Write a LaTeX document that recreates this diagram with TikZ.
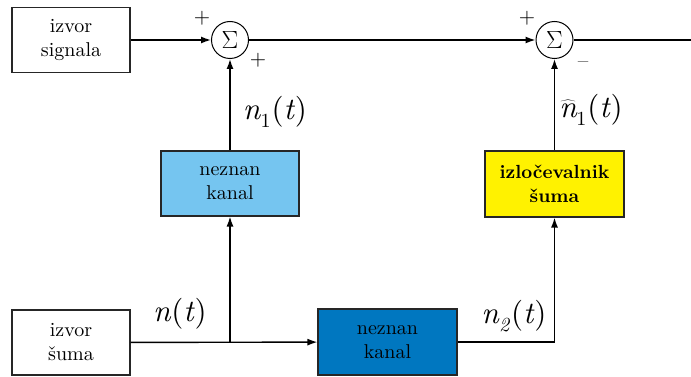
\documentclass[tikz,border=0pt]{standalone}
\usepackage{fontspec}
\setmainfont{lmroman10}[Extension=.otf, UprightFont=*-regular,
  BoldFont=*-bold, ItalicFont=*-italic, BoldItalicFont=*-bolditalic]
\usetikzlibrary{arrows.meta}

\definecolor{chanlight}{HTML}{75C5F0}
\definecolor{chandark}{HTML}{0077C0}
\definecolor{remyellow}{HTML}{FFF200}
\newcommand\sgn[1]{\textit{n}\kern-0.5pt\raisebox{-0.28em}{\fontsize{20}{20}\selectfont #1}\kern1pt(\textit{t\kern1pt})}

\begin{document}
\begin{tikzpicture}[x=1pt, y=-1pt, line width=1.4pt, >={Latex[length=10pt,width=7pt]},
%  every edge/.style = {draw, ->},
  box/.style = {draw=black!85, line width=1.1pt, minimum width=118pt,
    minimum height=65pt, inner sep=0pt, align=center,
    font=\fontsize{20}{24}\selectfont},
  sum/.style = {circle, draw, line width=1pt, minimum size=37pt, inner sep=0pt,
    font=\fontsize{24}{24}\selectfont},
  sign/.style = {font=\fontsize{21}{21}\selectfont},
  lbl/.style = {font=\fontsize{31}{31}\selectfont}]
  \useasboundingbox (0,0) rectangle (691,377);

  % sources
  \node[box] (signal) at (71,40) {izvor\\signala};
  \node[box] (noise) at (71,342.5) {izvor\\šuma};

  % channels
  \node[box, fill=chanlight, minimum width=138pt] (chan1) at (230,183.5)
    {neznan\\kanal};
  \node[box, fill=chandark, minimum width=139pt, minimum height=66pt] (chan2)
    at (387.5,342) {neznan\\kanal};
  \node[box, fill=remyellow, minimum width=139pt, minimum height=66pt,
    font=\fontsize{19}{24}\selectfont\bfseries] (rem) at (554.5,184)
    {izločevalnik\\šuma};

  % summation points
  \node[sum] (sum1) at (230,40) {$\Sigma$};
  \node[sum] (sum2) at (554.5,40) {$\Sigma$};
  \node[sign] at (202,18) {+};
  \node[sign] at (258,60) {+};
  \node[sign] at (527,18) {+};
  \node[sign] at (583,65) {--};

  \coordinate (split) at (230,342);
  \coordinate (out) at (691,40);

  % connectors
  \draw[->] (signal) -- (sum1);
  \draw[->] (sum1) -- (sum2);
  \draw (sum2) -- (out);
  \draw[->] (chan1) -- (sum1);
  \draw[->] (split) -- (chan1);
  \draw[->] (noise) -- (chan2);
  \draw[->] (chan2) -| (rem);
  \draw[->] (rem) -- (sum2);

  % signal labels
  \node[lbl] (ln1) at (275,112) {\sgn{1}};
  \node[lbl] (lhat) at (591,110)
    {$\widehat{\mbox{\itshape n}}$\kern-0.5pt\raisebox{-0.28em}{\fontsize{20}{20}\selectfont 1}\kern1pt(\textit{t\kern1pt})};
  \node[lbl] (ln) at (180,314) {\textit{n}(\textit{t\kern1pt})};
  \node[lbl] (ln2) at (514,316) {\sgn{\textit{2}}};
\end{tikzpicture}
\end{document}
